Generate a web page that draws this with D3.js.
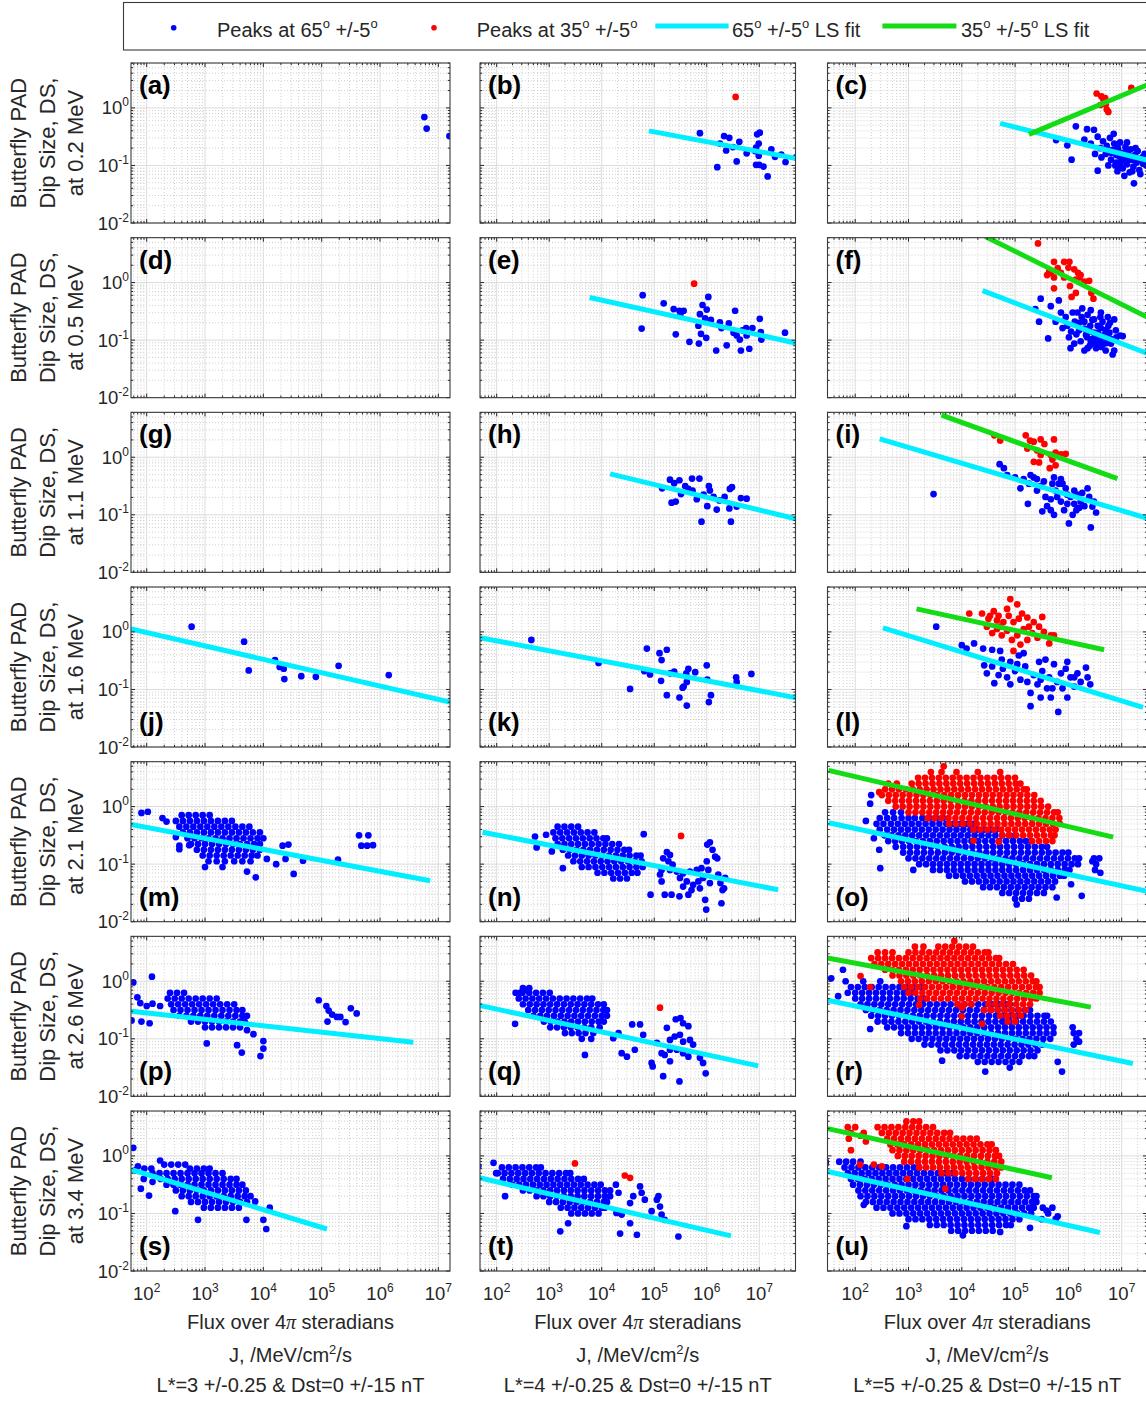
<!DOCTYPE html>
<html>
<head>
<meta charset="utf-8">
<script src="https://cdn.jsdelivr.net/npm/d3@7"></script>
<style>
  body { margin: 0; background: #fff; }
  text { font-family: "Liberation Sans", Arial, Helvetica, sans-serif; fill: #262626; }
</style>
</head>
<body>
<svg id="fig" width="1146" height="1401"></svg>
<script>
// all points are [log10 J, log10 DS]
const energies = ['0.2', '0.5', '1.1', '1.6', '2.1', '2.6', '3.4'];
const lStars = ['3', '4', '5'];
const letters = 'abcdefghijklmnopqrstu'.split('');
const xTickExps = [2, 3, 4, 5, 6, 7];
const yTickExps = [-2, -1, 0];
const xLogLims = [[1.731, 7.2], [1.682, 7.69], [1.48, 7.475]];
const yLogLims = [-2, 0.78];

// dense clouds are listed row by row: [log10 DS, log10 J, log10 J, ...]
const rowsToPts = rows => rows.flatMap(r => r.slice(1).map(v => [v, r[0]]));

const blueA = [[6.76, -0.16], [6.8, -0.36], [7.19, -0.49]];

const blueB = [[5.87, -0.44], [6.33, -0.49], [6.43, -0.52], [6.62, -0.59], [6.25, -0.62], [6.37, -0.74], [6.2, -1.03],
  [6.57, -0.93], [6.76, -0.79], [6.94, -0.69], [6.99, -0.62], [7.01, -0.43], [6.96, -0.46], [6.92, -0.75], [6.99, -0.83],
  [6.94, -0.99], [7.0, -0.99], [7.08, -1.02], [7.16, -1.19], [7.23, -0.72], [7.3, -0.85], [7.42, -0.81], [7.5, -0.94],
  [7.7, -0.86], [6.5, -0.68]];
const redB = [[6.55, 0.19]];
const cyanB = [[4.9, -0.4], [7.74, -0.885]];

const blueC = [[5.77, -0.56], [5.98, -0.65], [6.06, -0.9], [6.14, -0.32], [6.35, -0.37], [6.48, -0.38], [6.3, -0.55],
  [6.42, -0.62], [6.55, -0.5], [6.6, -0.7], [6.65, -0.58], [6.7, -0.8], [6.72, -0.66], [6.78, -0.52], [6.8, -0.9],
  [6.83, -0.73], [6.86, -0.62], [6.88, -1.0], [6.9, -0.82], [6.93, -0.7], [6.95, -0.95], [6.97, -0.6], [7.0, -0.78],
  [7.02, -1.05], [7.05, -0.88], [7.07, -0.68], [7.1, -0.98], [7.12, -0.8], [7.15, -1.12], [7.17, -0.72], [7.2, -0.9],
  [7.22, -1.02], [7.25, -0.82], [7.28, -0.95], [7.3, -0.75], [7.33, -1.08], [7.36, -0.88], [7.4, -0.97], [7.43, -0.8],
  [7.46, -1.0], [6.55, -1.09], [7.23, -1.31], [7.05, -1.18], [6.75, -1.0], [6.62, -0.86], [6.5, -0.8], [6.92, -1.1],
  [7.1, -0.6], [6.85, -0.45], [7.35, -1.15], [7.0, -0.92], [6.98, -1.0], [7.13, -0.9], [6.9, -0.95], [6.8, -0.78],
  [7.18, -0.85], [7.26, -0.7], [7.4, -0.85], [7.08, -0.76], [7.2, -1.1], [6.96, -0.84], [7.3, -0.9], [7.44, -0.92]];
const redC = [[6.53, 0.25], [6.62, 0.2], [6.66, 0.14], [6.7, 0.06], [6.72, -0.03], [6.75, -0.07], [6.69, 0.17],
  [7.18, 0.35], [6.6, 0.05]];
const cyanC = [[4.72, -0.27], [7.48, -0.91]];
const greenC = [[5.26, -0.46], [7.48, 0.4]];

const blueE = [[4.78, -0.22], [4.76, -0.8], [5.18, -0.36], [5.37, -0.46], [5.48, -0.49], [5.56, -0.49], [5.5, -0.54],
  [5.41, -0.9], [5.67, -1.03], [5.85, -1.06], [5.87, -0.55], [5.92, -0.39], [6.03, -0.25], [6.0, -0.47], [5.97, -0.62],
  [5.84, -0.75], [5.89, -0.89], [5.99, -0.96], [6.08, -0.65], [6.25, -0.69], [6.28, -0.79], [6.18, -1.18], [6.38, -1.09],
  [6.54, -0.49], [6.51, -0.87], [6.57, -0.92], [6.65, -1.18], [6.68, -0.83], [6.75, -0.79], [6.76, -0.92], [6.87, -0.79],
  [6.81, -1.15], [7.01, -0.63], [7.03, -0.86], [7.04, -0.99], [7.49, -0.87], [6.63, -0.99], [6.42, -0.71]];
const redE = [[5.76, -0.02]];
const cyanE = [[3.77, -0.26], [7.74, -1.06]];

const blueF = [[5.48, -0.28], [5.38, -0.46], [5.45, -0.68], [5.62, -0.97], [5.67, -0.41], [5.82, -0.31], [5.86, -0.52],
  [5.95, -0.6], [5.98, -0.75], [6.01, -0.95], [6.04, -1.14], [6.12, -0.68], [6.17, -0.52], [6.2, -0.83], [6.23, -1.02],
  [6.3, -0.68], [6.33, -0.91], [6.36, -1.14], [6.41, -0.75], [6.45, -0.98], [6.48, -0.64], [6.55, -0.87], [6.58, -1.1],
  [6.64, -0.68], [6.67, -0.91], [6.7, -1.18], [6.75, -0.75], [6.79, -0.98], [6.83, -1.25], [6.86, -0.64], [6.89, -0.83],
  [6.97, -0.92], [7.02, -0.93], [6.8, -1.06], [6.74, -0.6], [6.61, -0.52], [6.42, -0.48], [6.36, -0.56], [5.89, -0.79],
  [5.76, -0.68], [6.08, -0.52], [6.26, -0.45], [6.52, -1.14], [6.3, -1.18], [6.11, -1.06], [6.67, -1.06], [6.86, -1.18],
  [6.48, -0.87], [6.42, -1.02], [6.61, -0.79], [6.77, -0.87], [6.2, -0.7], [6.3, -0.8], [6.4, -0.85], [6.5, -0.95],
  [6.6, -1.0], [6.7, -0.95], [6.55, -0.75], [6.45, -0.65], [6.35, -0.95], [6.25, -0.6], [6.15, -0.9], [6.05, -0.85],
  [6.6, -0.6], [6.7, -0.82], [6.78, -0.7], [6.9, -0.95], [6.5, -1.05], [6.4, -1.1], [6.62, -1.12], [6.72, -1.05]];
const redF = [[5.43, 0.68], [5.73, 0.36], [5.92, 0.36], [5.8, 0.25], [5.67, 0.17], [5.6, 0.13], [5.73, 0.09], [5.86, 0.17],
  [6.0, 0.26], [6.11, 0.23], [6.18, 0.17], [6.21, 0.09], [6.03, -0.06], [6.06, -0.25], [6.14, -0.18], [6.3, 0.015],
  [6.39, 0.03], [6.43, -0.18], [6.47, -0.28], [5.73, -0.1], [5.92, 0.09], [6.14, 0.05], [5.64, 0.2], [6.02, 0.36], [6.23, 0.13]];
const cyanF = [[4.39, -0.14], [7.48, -1.23]];
const greenF = [[4.44, 0.8], [7.48, -0.6]];

const blueH = [[5.15, -0.54], [5.3, -0.39], [5.38, -0.45], [5.48, -0.4], [5.59, -0.5], [5.72, -0.37], [5.86, -0.37],
  [5.33, -0.79], [5.41, -0.77], [5.51, -0.64], [5.73, -0.58], [5.81, -0.73], [5.9, -1.12], [5.94, -0.65], [6.04, -0.5],
  [6.06, -0.58], [6.01, -0.85], [6.13, -0.69], [6.24, -0.75], [6.34, -0.69], [6.44, -0.55], [6.48, -0.52], [6.43, -0.89],
  [6.46, -1.12], [6.57, -0.86], [6.65, -0.71], [6.76, -0.72], [6.19, -0.91], [5.65, -0.55]];
const cyanH = [[4.16, -0.29], [7.74, -1.08]];

const blueI = [[3.47, -0.64], [4.71, -0.12], [4.79, -0.19], [4.85, -0.31], [5.0, -0.35], [5.1, -0.54], [5.24, -0.81],
  [5.16, -0.38], [5.29, -0.31], [5.35, -0.35], [5.41, -0.38], [5.48, -0.5], [5.51, -0.94], [5.57, -0.69], [5.6, -0.85],
  [5.67, -0.73], [5.73, -0.35], [5.76, -0.58], [5.79, -0.69], [5.86, -0.77], [5.89, -0.46], [5.95, -0.54], [5.98, -0.81],
  [6.01, -1.15], [6.04, -0.69], [6.11, -0.58], [6.17, -0.65], [6.2, -0.88], [6.23, -0.77], [6.3, -0.85], [6.36, -0.54],
  [6.39, -0.69], [6.42, -1.22], [6.45, -0.86], [6.52, -0.96], [6.48, -0.77], [6.08, -1.0], [6.15, -0.92], [5.92, -0.92],
  [5.82, -0.46], [5.41, -0.58], [5.26, -0.46], [5.67, -0.92], [5.73, -1.0], [6.11, -0.81], [6.26, -0.62], [5.98, -0.65],
  [5.86, -0.38], [5.7, -0.46], [5.54, -0.42]];
const redI = [[4.61, 0.38], [4.72, 0.29], [5.2, 0.38], [5.28, 0.29], [5.35, 0.27], [5.48, 0.31], [5.55, 0.23], [5.73, 0.31],
  [5.41, 0.12], [5.48, 0.04], [5.35, -0.08], [5.45, -0.09], [5.67, 0.04], [5.7, -0.04], [5.76, 0.08], [5.86, 0.05],
  [5.95, 0.06], [5.65, -0.19], [5.76, -0.14], [5.23, 0.15]];
const cyanI = [[2.46, 0.32], [7.48, -1.06]];
const greenI = [[3.62, 0.73], [6.92, -0.37]];

const blueJ = [[2.77, 0.09], [3.67, -0.17], [3.75, -0.67], [4.2, -0.49], [4.28, -0.61], [4.35, -0.64], [4.36, -0.82],
  [4.65, -0.77], [4.9, -0.78], [5.29, -0.59], [6.15, -0.75]];
const cyanJ = [[1.73, 0.05], [7.2, -1.22]];

const blueK = [[2.66, -0.14], [3.94, -0.54], [4.54, -0.99], [4.86, -0.29], [4.81, -0.68], [4.92, -0.74], [5.1, -0.37],
  [5.14, -0.49], [5.24, -0.31], [5.13, -0.85], [5.24, -1.1], [5.3, -0.72], [5.38, -0.69], [5.48, -1.14], [5.56, -0.95],
  [5.62, -0.87], [5.65, -0.64], [5.61, -0.72], [5.62, -1.28], [5.78, -0.7], [6.0, -0.58], [6.01, -0.83], [6.04, -1.22],
  [6.08, -1.1], [6.56, -0.79], [6.57, -0.87], [6.85, -0.73], [5.54, -0.97]];
const cyanK = [[1.68, -0.1], [7.74, -1.15]];

const blueL = [[3.52, 0.09], [4.0, -0.23], [4.09, -0.29], [4.23, -0.2], [4.4, -0.29], [4.57, -0.31], [4.72, -0.33],
  [4.42, -0.58], [4.47, -0.72], [4.61, -0.89], [4.57, -0.6], [4.69, -0.75], [4.77, -0.64], [4.85, -0.79], [4.91, -0.52],
  [5.0, -0.68], [5.07, -0.41], [5.1, -0.83], [5.19, -0.6], [5.29, -1.06], [5.35, -0.75], [5.42, -0.91], [5.48, -1.14],
  [5.51, -0.68], [5.57, -0.48], [5.64, -0.79], [5.7, -0.98], [5.73, -0.56], [5.79, -0.87], [5.81, -1.39], [5.86, -0.72],
  [5.89, -0.98], [5.95, -0.64], [5.98, -1.14], [6.04, -0.79], [6.11, -0.95], [6.17, -0.72], [6.23, -0.87], [6.33, -0.62],
  [6.36, -0.79], [6.41, -0.91], [5.29, -1.29], [5.16, -0.37], [4.91, -0.91], [4.75, -0.48], [5.48, -0.83], [5.67, -1.14],
  [5.23, -0.87], [5.45, -0.52], [5.04, -0.56], [5.98, -0.52], [6.11, -0.79], [5.6, -0.98]];
const redL = [[4.14, 0.32], [4.38, 0.32], [4.5, 0.23], [4.6, 0.36], [4.69, 0.28], [4.85, 0.4], [4.91, 0.57], [5.04, 0.48],
  [5.13, 0.32], [5.23, 0.25], [5.35, 0.17], [5.45, 0.09], [5.51, 0.26], [5.67, -0.06], [5.64, -0.2], [4.47, 0.09],
  [4.57, -0.02], [4.66, 0.05], [4.75, -0.06], [4.85, 0.02], [4.94, -0.14], [5.04, -0.06], [5.1, -0.22], [5.23, -0.14],
  [5.32, -0.02], [5.16, 0.05], [4.78, 0.17], [4.97, 0.17], [4.66, 0.2], [5.26, 0.09], [4.88, 0.28], [5.07, 0.23],
  [4.53, 0.28], [4.72, 0.09], [4.97, -0.33], [5.42, -0.1], [5.54, 0.0], [5.73, -0.06]];
const cyanL = [[2.52, 0.07], [7.4, -1.31]];
const greenL = [[3.15, 0.4], [6.67, -0.31]];

const blueMRows = [
  [-0.15, 2.6, 2.72, 2.84, 2.96, 3.08],
  [-0.25, 2.5, 2.62, 2.74, 2.86, 2.98, 3.1, 3.22, 3.34, 3.46],
  [-0.35, 2.56, 2.68, 2.8, 2.92, 3.04, 3.16, 3.28, 3.4, 3.52, 3.64, 3.76],
  [-0.45, 2.62, 2.74, 2.86, 2.98, 3.1, 3.22, 3.34, 3.46, 3.58, 3.7, 3.82, 3.94],
  [-0.55, 2.7, 2.82, 2.94, 3.06, 3.18, 3.3, 3.42, 3.54, 3.66, 3.78, 3.9, 4.0],
  [-0.65, 2.76, 2.88, 3.0, 3.12, 3.24, 3.36, 3.48, 3.6, 3.72, 3.84, 3.94],
  [-0.75, 2.86, 2.98, 3.1, 3.22, 3.34, 3.46, 3.58, 3.7, 3.82, 3.94],
  [-0.85, 2.96, 3.08, 3.2, 3.32, 3.44, 3.56, 3.68, 3.8, 3.9],
  [-0.95, 3.06, 3.2, 3.34, 3.5, 3.64, 3.78]];
const blueMOut = [[1.91, -0.11], [2.02, -0.09], [2.27, -0.2], [2.34, -0.26], [2.5, -0.53], [2.56, -0.68], [2.56, -0.74],
  [2.73, -0.67], [4.06, -0.91], [4.22, -1.0], [4.33, -0.68], [4.38, -0.91], [4.43, -0.66], [4.52, -1.17], [4.68, -0.94],
  [5.28, -0.92], [5.64, -0.5], [5.8, -0.5], [5.68, -0.68], [5.78, -0.68], [5.88, -0.67], [3.72, -1.13], [3.87, -1.23],
  [3.0, -1.05], [3.3, -1.05]];
const cyanM = [[1.73, -0.31], [6.86, -1.29]];

const blueNRows = [
  [-0.35, 3.16, 3.29, 3.42, 3.55],
  [-0.45, 3.08, 3.21, 3.34, 3.47, 3.6, 3.73, 3.86],
  [-0.55, 3.12, 3.25, 3.38, 3.51, 3.64, 3.77, 3.9, 4.03, 4.1],
  [-0.65, 3.16, 3.29, 3.42, 3.55, 3.68, 3.81, 3.94, 4.07, 4.2, 4.33],
  [-0.75, 3.26, 3.39, 3.52, 3.65, 3.78, 3.91, 4.04, 4.17, 4.3, 4.43, 4.52],
  [-0.85, 3.36, 3.49, 3.62, 3.75, 3.88, 4.01, 4.14, 4.27, 4.4, 4.53, 4.66, 4.74],
  [-0.95, 3.46, 3.59, 3.72, 3.85, 3.98, 4.11, 4.24, 4.37, 4.5, 4.63, 4.76],
  [-1.05, 3.62, 3.75, 3.88, 4.01, 4.14, 4.27, 4.4, 4.53, 4.66, 4.78],
  [-1.15, 3.92, 4.05, 4.18, 4.31, 4.44, 4.57, 4.68],
  [-1.25, 4.22, 4.35, 4.48]];
const blueNOut = [[2.73, -0.52], [2.76, -0.71], [2.94, -0.49], [3.05, -0.78], [3.26, -1.07], [4.8, -0.48], [4.93, -1.53],
  [5.17, -0.9], [5.24, -0.79], [5.3, -0.84], [5.27, -0.95], [5.35, -1.01], [5.2, -1.53], [5.11, -1.18], [5.14, -1.3],
  [5.33, -1.53], [5.48, -1.56], [5.43, -1.13], [5.49, -1.24], [5.55, -1.16], [5.62, -1.3], [5.65, -1.53], [5.68, -1.13],
  [5.74, -1.36], [5.81, -1.1], [5.84, -1.3], [5.87, -1.42], [5.9, -1.07], [5.93, -1.24], [5.97, -1.62], [5.99, -1.79],
  [6.0, -0.95], [6.01, -0.66], [6.06, -0.62], [6.11, -0.75], [6.16, -0.87], [6.2, -0.9], [6.22, -1.18], [6.26, -1.33],
  [6.28, -1.68], [6.3, -1.45], [6.33, -1.42], [6.35, -1.24], [6.03, -1.1], [6.06, -1.33], [5.55, -1.39], [5.71, -1.45],
  [5.3, -1.1], [5.14, -1.1]];
const redN = [[5.51, -0.51]];
const cyanN = [[1.73, -0.445], [7.36, -1.445]];

const blueORows = [
  [-0.1, 2.56, 2.71, 2.86],
  [-0.2, 2.46, 2.6, 2.73, 2.87, 3.0, 3.12, 3.26, 3.39, 3.52, 3.65],
  [-0.3, 2.4, 2.53, 2.67, 2.8, 2.93, 3.06, 3.19, 3.32, 3.45, 3.58, 3.71, 3.84, 3.97, 4.1, 4.2],
  [-0.4, 2.46, 2.6, 2.73, 2.86, 2.99, 3.12, 3.25, 3.38, 3.51, 3.64, 3.77, 3.9, 4.03, 4.16, 4.29, 4.42, 4.55, 4.65],
  [-0.5, 2.55, 2.68, 2.81, 2.94, 3.07, 3.2, 3.33, 3.46, 3.59, 3.72, 3.85, 3.98, 4.11, 4.24, 4.37, 4.5, 4.63, 4.76, 4.89, 5.0],
  [-0.6, 2.62, 2.75, 2.88, 3.01, 3.14, 3.27, 3.4, 3.53, 3.66, 3.79, 3.92, 4.05, 4.18, 4.31, 4.44, 4.57, 4.7, 4.83, 4.96, 5.09, 5.2, 5.3],
  [-0.7, 2.76, 2.9, 3.03, 3.16, 3.29, 3.42, 3.55, 3.68, 3.81, 3.94, 4.07, 4.2, 4.33, 4.46, 4.59, 4.72, 4.85, 4.98, 5.11, 5.24, 5.37, 5.5, 5.6],
  [-0.8, 2.9, 3.03, 3.16, 3.29, 3.42, 3.55, 3.68, 3.81, 3.94, 4.07, 4.2, 4.33, 4.46, 4.59, 4.72, 4.85, 4.98, 5.11, 5.24, 5.37, 5.5, 5.63, 5.76, 5.89, 6.0],
  [-0.9, 3.0, 3.13, 3.26, 3.39, 3.52, 3.65, 3.78, 3.91, 4.04, 4.17, 4.3, 4.43, 4.56, 4.69, 4.82, 4.95, 5.08, 5.21, 5.34, 5.47, 5.6, 5.73, 5.86, 5.99, 6.12, 6.2, 6.48, 6.58],
  [-1.0, 3.2, 3.33, 3.46, 3.59, 3.72, 3.85, 3.98, 4.11, 4.24, 4.37, 4.5, 4.63, 4.76, 4.89, 5.02, 5.15, 5.28, 5.41, 5.54, 5.67, 5.8, 5.93, 6.06, 6.18, 6.52],
  [-1.1, 3.46, 3.59, 3.72, 3.85, 3.98, 4.11, 4.24, 4.37, 4.5, 4.63, 4.76, 4.89, 5.02, 5.15, 5.28, 5.41, 5.54, 5.67, 5.8, 5.93, 6.02, 6.5],
  [-1.2, 3.76, 3.89, 4.02, 4.15, 4.28, 4.41, 4.54, 4.67, 4.8, 4.93, 5.06, 5.19, 5.32, 5.45, 5.58, 5.71, 5.84, 5.92],
  [-1.3, 4.06, 4.19, 4.32, 4.45, 4.58, 4.71, 4.84, 4.97, 5.1, 5.23, 5.36, 5.49, 5.62, 5.75],
  [-1.4, 4.4, 4.53, 4.66, 4.79, 4.92, 5.05, 5.18, 5.31, 5.44, 5.57, 5.7],
  [-1.5, 4.76, 4.89, 5.02, 5.15, 5.28, 5.41, 5.54],
  [-1.6, 5.0, 5.13, 5.26]];
const blueOOut = [[2.3, 0.2], [2.28, 0.05], [2.47, -1.07], [3.09, -1.1], [5.03, -1.7], [5.78, -1.58], [6.25, -1.55],
  [6.05, -1.35], [2.35, -0.55], [2.45, -0.75], [2.2, -0.25], [6.6, -1.15], [6.45, -0.95]];
const redORows = [
  [0.7, 3.66],
  [0.6, 3.42, 3.62, 3.9, 4.3, 4.72],
  [0.5, 3.18, 3.31, 3.44, 3.57, 3.7, 3.83, 3.96, 4.09, 4.22, 4.35, 4.48, 4.61, 4.74, 4.87, 5.0],
  [0.4, 2.62, 2.78, 3.06, 3.19, 3.32, 3.45, 3.58, 3.71, 3.84, 3.97, 4.1, 4.23, 4.36, 4.49, 4.62, 4.75, 4.88, 5.01, 5.1],
  [0.3, 2.56, 2.69, 2.82, 2.95, 3.08, 3.21, 3.34, 3.47, 3.6, 3.73, 3.86, 3.99, 4.12, 4.25, 4.38, 4.51, 4.64, 4.77, 4.9, 5.03, 5.16, 5.22],
  [0.2, 2.5, 2.63, 2.76, 2.89, 3.02, 3.15, 3.28, 3.41, 3.54, 3.67, 3.8, 3.93, 4.06, 4.19, 4.32, 4.45, 4.58, 4.71, 4.84, 4.97, 5.1, 5.23, 5.36],
  [0.1, 2.62, 2.75, 2.88, 3.01, 3.14, 3.27, 3.4, 3.53, 3.66, 3.79, 3.92, 4.05, 4.18, 4.31, 4.44, 4.57, 4.7, 4.83, 4.96, 5.09, 5.22, 5.35, 5.48],
  [0.0, 2.76, 2.89, 3.02, 3.15, 3.28, 3.41, 3.54, 3.67, 3.8, 3.93, 4.06, 4.19, 4.32, 4.45, 4.58, 4.71, 4.84, 4.97, 5.1, 5.23, 5.36, 5.49, 5.62],
  [-0.1, 3.0, 3.13, 3.26, 3.39, 3.52, 3.65, 3.78, 3.91, 4.04, 4.17, 4.3, 4.43, 4.56, 4.69, 4.82, 4.95, 5.08, 5.21, 5.34, 5.47, 5.6, 5.73, 5.8],
  [-0.2, 3.36, 3.49, 3.62, 3.75, 3.88, 4.01, 4.14, 4.27, 4.4, 4.53, 4.66, 4.79, 4.92, 5.05, 5.18, 5.31, 5.44, 5.57, 5.7, 5.83],
  [-0.3, 3.76, 3.89, 4.02, 4.15, 4.28, 4.41, 4.54, 4.67, 4.8, 4.93, 5.06, 5.19, 5.32, 5.45, 5.58, 5.71, 5.84],
  [-0.4, 4.22, 4.35, 4.48, 4.61, 4.74, 4.87, 5.0, 5.13, 5.26, 5.39, 5.52, 5.65, 5.76],
  [-0.5, 4.76, 4.89, 5.02, 5.15, 5.28, 5.41, 5.54, 5.67, 5.74],
  [-0.6, 5.32, 5.45, 5.58, 5.7]];
const redOOut = [[4.22, -0.59], [4.69, -0.61], [2.45, 0.25]];
const cyanO = [[1.5, -0.28], [7.46, -1.47]];
const greenO = [[1.5, 0.63], [6.84, -0.53]];

const bluePRows = [
  [-0.2, 2.4, 2.52, 2.64],
  [-0.3, 2.36, 2.48, 2.6, 2.72, 2.84, 2.96, 3.08, 3.2],
  [-0.4, 2.42, 2.54, 2.66, 2.78, 2.9, 3.02, 3.14, 3.26, 3.38, 3.5],
  [-0.5, 2.46, 2.58, 2.7, 2.82, 2.94, 3.06, 3.18, 3.3, 3.42, 3.54, 3.64],
  [-0.6, 2.56, 2.68, 2.8, 2.92, 3.04, 3.16, 3.28, 3.4, 3.52, 3.64, 3.72],
  [-0.7, 2.76, 2.88, 3.0, 3.12, 3.24, 3.36, 3.48, 3.6, 3.68],
  [-0.8, 3.0, 3.12, 3.24, 3.36, 3.48, 3.6]];
const bluePOut = [[1.77, -0.02], [2.09, 0.08], [1.74, -0.68], [1.84, -0.28], [1.89, -0.38], [2.05, -0.73], [1.91, -0.7],
  [2.0, -0.43], [2.1, -0.39], [2.23, -0.43], [3.72, -0.85], [3.83, -0.92], [3.63, -1.24], [3.95, -1.3], [4.0, -1.04],
  [4.0, -1.17], [3.55, -1.11], [3.03, -1.08], [4.95, -0.33], [5.08, -0.43], [5.12, -0.51], [5.18, -0.58], [5.26, -0.62],
  [5.32, -0.62], [5.41, -0.71], [5.1, -0.7], [5.5, -0.47], [5.6, -0.56]];
const cyanP = [[1.73, -0.52], [6.57, -1.06]];

const blueQRows = [
  [-0.12, 2.5, 2.62],
  [-0.2, 2.36, 2.49, 2.62, 2.75, 2.88, 3.01],
  [-0.3, 2.42, 2.55, 2.68, 2.81, 2.94, 3.07, 3.2, 3.33, 3.46, 3.59, 3.72, 3.82],
  [-0.4, 2.5, 2.63, 2.76, 2.89, 3.02, 3.15, 3.28, 3.41, 3.54, 3.67, 3.8, 3.93, 4.04],
  [-0.5, 2.6, 2.73, 2.86, 2.99, 3.12, 3.25, 3.38, 3.51, 3.64, 3.77, 3.9, 4.03, 4.1],
  [-0.6, 2.7, 2.83, 2.96, 3.09, 3.22, 3.35, 3.48, 3.61, 3.74, 3.87, 4.0, 4.1],
  [-0.7, 2.9, 3.03, 3.16, 3.29, 3.42, 3.55, 3.68, 3.81, 3.94, 4.04],
  [-0.8, 3.02, 3.15, 3.28, 3.41, 3.54, 3.67, 3.8, 3.96],
  [-0.9, 3.3, 3.43, 3.56, 3.69, 3.84],
  [-1.0, 3.62, 3.8]];
const blueQOut = [[5.24, -0.81], [5.41, -0.66], [5.5, -0.64], [5.55, -0.73], [5.65, -0.78], [5.3, -1.02], [5.39, -0.96],
  [5.49, -0.93], [5.55, -1.05], [5.68, -1.02], [5.74, -1.1], [5.3, -1.19], [5.43, -1.19], [5.2, -1.28], [5.55, -1.25],
  [5.65, -1.31], [5.3, -1.39], [5.17, -1.65], [5.48, -1.74], [5.87, -1.33], [5.93, -1.42], [5.98, -1.6], [4.95, -1.42],
  [4.97, -1.48], [5.05, -1.07], [5.14, -1.25], [4.32, -0.9], [4.38, -1.25], [4.48, -1.31], [4.58, -0.75], [4.63, -1.19],
  [4.73, -0.75], [4.79, -0.93], [4.22, -0.99], [2.35, -0.74], [2.54, -0.15], [2.44, -0.2], [3.68, -1.28]];
const redQ = [[5.11, -0.46]];
const cyanQ = [[1.67, -0.42], [6.98, -1.47]];

const blueRRows = [
  [0.2, 1.77],
  [0.0, 1.82, 2.15, 2.47],
  [-0.1, 1.92, 2.05, 2.18, 2.31, 2.44, 2.57, 2.7, 2.83, 2.96, 3.09, 3.22, 3.3],
  [-0.2, 1.86, 2.0, 2.13, 2.26, 2.39, 2.52, 2.65, 2.78, 2.91, 3.04],
  [-0.3, 2.0, 2.13, 2.26, 2.39, 2.52, 2.65, 2.78, 2.91, 3.04, 3.17, 3.3],
  [-0.4, 2.1, 2.23, 2.36, 2.49, 2.62, 2.75, 2.88, 3.01, 3.14, 3.27, 3.4, 3.53, 3.66, 3.79, 3.92, 4.05, 4.18, 4.31, 4.44, 4.57, 4.7, 4.83, 4.9],
  [-0.5, 2.2, 2.33, 2.46, 2.59, 2.72, 2.85, 2.98, 3.11, 3.24, 3.37, 3.5, 3.63, 3.76, 3.89, 4.02, 4.15, 4.28, 4.41, 4.54, 4.67, 4.8, 4.93, 5.06, 5.19, 5.28],
  [-0.6, 2.3, 2.43, 2.56, 2.69, 2.82, 2.95, 3.08, 3.21, 3.34, 3.47, 3.6, 3.73, 3.86, 3.99, 4.12, 4.25, 4.38, 4.51, 4.64, 4.77, 4.9, 5.03, 5.16, 5.29, 5.42, 5.55, 5.6],
  [-0.7, 2.42, 2.55, 2.68, 2.81, 2.94, 3.07, 3.2, 3.33, 3.46, 3.59, 3.72, 3.85, 3.98, 4.11, 4.24, 4.37, 4.5, 4.63, 4.76, 4.89, 5.02, 5.15, 5.28, 5.41, 5.54, 5.67],
  [-0.8, 2.6, 2.73, 2.86, 2.99, 3.12, 3.25, 3.38, 3.51, 3.64, 3.77, 3.9, 4.03, 4.16, 4.29, 4.42, 4.55, 4.68, 4.81, 4.94, 5.07, 5.2, 5.33, 5.46, 5.59, 5.72, 6.08],
  [-0.9, 2.86, 2.99, 3.12, 3.25, 3.38, 3.51, 3.64, 3.77, 3.9, 4.03, 4.16, 4.29, 4.42, 4.55, 4.68, 4.81, 4.94, 5.07, 5.2, 5.33, 5.46, 5.59, 5.72, 6.1, 6.2],
  [-1.0, 3.06, 3.19, 3.32, 3.45, 3.58, 3.71, 3.84, 3.97, 4.1, 4.23, 4.36, 4.49, 4.62, 4.75, 4.88, 5.01, 5.14, 5.27, 5.4, 5.53, 5.66, 6.15],
  [-1.1, 3.3, 3.43, 3.56, 3.69, 3.82, 3.95, 4.08, 4.21, 4.34, 4.47, 4.6, 4.73, 4.86, 4.99, 5.12, 5.25, 5.38, 5.51, 6.1],
  [-1.2, 3.6, 3.73, 3.86, 3.99, 4.12, 4.25, 4.38, 4.51, 4.64, 4.77, 4.9, 5.03, 5.16, 5.29, 5.42],
  [-1.3, 3.96, 4.09, 4.22, 4.35, 4.48, 4.61, 4.74, 4.87, 5.0, 5.13, 5.26, 5.36],
  [-1.4, 4.3, 4.43, 4.56, 4.69, 4.82, 4.95, 5.08]];
const blueROut = [[1.68, -0.26], [2.28, -0.83], [3.63, -1.38], [4.44, -1.57], [4.9, -1.5], [5.88, -1.57], [5.8, -1.4],
  [6.2, -1.05], [1.55, 0.05]];
const redRRows = [
  [0.7, 3.86],
  [0.6, 3.12, 3.28, 3.56, 3.69, 3.82, 3.95, 4.08, 4.21],
  [0.5, 2.42, 2.56, 2.7, 3.0, 3.13, 3.26, 3.39, 3.52, 3.65, 3.78, 3.91, 4.04, 4.17, 4.3, 4.43, 4.5],
  [0.4, 2.3, 2.43, 2.56, 2.69, 2.82, 2.95, 3.08, 3.21, 3.34, 3.47, 3.6, 3.73, 3.86, 3.99, 4.12, 4.25, 4.38, 4.51, 4.64, 4.7],
  [0.3, 2.36, 2.49, 2.62, 2.75, 2.88, 3.01, 3.14, 3.27, 3.4, 3.53, 3.66, 3.79, 3.92, 4.05, 4.18, 4.31, 4.44, 4.57, 4.7, 4.83, 4.96],
  [0.2, 2.56, 2.69, 2.82, 2.95, 3.08, 3.21, 3.34, 3.47, 3.6, 3.73, 3.86, 3.99, 4.12, 4.25, 4.38, 4.51, 4.64, 4.77, 4.9, 5.03, 5.16],
  [0.1, 2.7, 2.83, 2.96, 3.09, 3.22, 3.35, 3.48, 3.61, 3.74, 3.87, 4.0, 4.13, 4.26, 4.39, 4.52, 4.65, 4.78, 4.91, 5.04, 5.17, 5.3],
  [0.0, 2.86, 2.99, 3.12, 3.25, 3.38, 3.51, 3.64, 3.77, 3.9, 4.03, 4.16, 4.29, 4.42, 4.55, 4.68, 4.81, 4.94, 5.07, 5.2, 5.33, 5.4],
  [-0.1, 2.92, 3.05, 3.18, 3.31, 3.44, 3.57, 3.7, 3.83, 3.96, 4.09, 4.22, 4.35, 4.48, 4.61, 4.74, 4.87, 5.0, 5.13, 5.26, 5.39, 5.46],
  [-0.2, 3.0, 3.13, 3.26, 3.39, 3.52, 3.65, 3.78, 3.91, 4.04, 4.17, 4.3, 4.43, 4.56, 4.69, 4.82, 4.95, 5.08, 5.21, 5.34, 5.46],
  [-0.3, 3.22, 3.35, 3.48, 3.61, 3.74, 3.87, 4.0, 4.13, 4.26, 4.39, 4.52, 4.65, 4.78, 4.91, 5.04, 5.17, 5.3, 5.4],
  [-0.4, 3.92, 4.05, 4.18, 4.5, 4.63, 4.76, 4.89, 5.02, 5.15, 5.28],
  [-0.5, 4.42, 4.55, 4.68, 4.81, 4.94, 5.07, 5.2],
  [-0.6, 4.72, 4.85, 4.98, 5.11],
  [-0.7, 4.86, 5.0]];
const redROut = [[2.1, 0.09], [2.28, -0.1], [3.2, -0.41], [4.0, -0.46], [4.0, -0.61], [4.38, -0.74]];
const cyanR = [[1.48, -0.33], [7.21, -1.43]];
const greenR = [[1.48, 0.405], [6.42, -0.45]];

const blueSRows = [
  [-0.15, 2.3, 2.42, 2.54, 2.66],
  [-0.22, 1.96, 2.08, 2.74, 2.86, 2.98, 3.08],
  [-0.3, 2.1, 2.22, 2.34, 2.46, 2.58, 2.7, 2.82, 2.94, 3.06, 3.18, 3.3],
  [-0.4, 2.24, 2.36, 2.48, 2.6, 2.72, 2.84, 2.96, 3.08, 3.2, 3.32, 3.44, 3.54],
  [-0.5, 2.34, 2.46, 2.58, 2.7, 2.82, 2.94, 3.06, 3.18, 3.3, 3.42, 3.54, 3.64],
  [-0.6, 2.5, 2.62, 2.74, 2.86, 2.98, 3.1, 3.22, 3.34, 3.46, 3.58, 3.7],
  [-0.7, 2.6, 2.72, 2.84, 2.96, 3.08, 3.2, 3.32, 3.44, 3.56, 3.68, 3.78],
  [-0.8, 2.76, 2.88, 3.0, 3.12, 3.24, 3.36, 3.48, 3.6, 3.72],
  [-0.9, 2.98, 3.1, 3.22, 3.34, 3.46, 3.58]];
const blueSOut = [[1.77, 0.14], [2.23, -0.08], [1.9, -0.57], [2.04, -0.69], [2.49, -0.96], [2.88, -1.11], [3.71, -1.11],
  [4.0, -1.11], [4.05, -1.27], [4.11, -0.9], [3.86, -0.79], [1.8, -0.25], [1.95, -0.4], [2.1, -0.45], [1.85, -0.18]];
const cyanS = [[1.74, -0.24], [5.09, -1.27]];

const blueTRows = [
  [-0.2, 2.1, 2.23, 2.36, 2.49, 2.62, 2.75, 2.84],
  [-0.3, 2.02, 2.15, 2.28, 2.41, 2.54, 2.67, 2.8, 2.93, 3.06, 3.19, 3.32, 3.4],
  [-0.4, 2.12, 2.25, 2.38, 2.51, 2.64, 2.77, 2.9, 3.03, 3.16, 3.29, 3.42, 3.55, 3.66],
  [-0.5, 2.3, 2.43, 2.56, 2.69, 2.82, 2.95, 3.08, 3.21, 3.34, 3.47, 3.6, 3.73, 3.86, 3.98],
  [-0.6, 2.5, 2.63, 2.76, 2.89, 3.02, 3.15, 3.28, 3.41, 3.54, 3.67, 3.8, 3.93, 4.06, 4.16],
  [-0.7, 2.76, 2.89, 3.02, 3.15, 3.28, 3.41, 3.54, 3.67, 3.8, 3.93, 4.06, 4.16],
  [-0.8, 3.0, 3.13, 3.26, 3.39, 3.52, 3.65, 3.78, 3.91, 4.04, 4.1],
  [-0.9, 3.22, 3.35, 3.48, 3.61, 3.74, 3.87, 4.0, 4.06],
  [-1.0, 3.42, 3.55, 3.68, 3.81, 3.94]];
const blueTOut = [[1.65, -0.18], [1.94, -0.12], [1.99, -0.3], [2.16, -0.7], [4.27, -0.5], [4.32, -0.64], [4.6, -0.7],
  [4.73, -0.53], [4.76, -0.64], [4.82, -0.76], [4.54, -0.82], [4.38, -1.02], [4.67, -1.37], [4.95, -0.96], [5.08, -0.7],
  [5.11, -0.88], [5.14, -1.02], [5.2, -1.11], [5.46, -1.4], [4.54, -1.17], [4.28, -0.99], [3.21, -1.31], [3.36, -1.17],
  [4.35, -1.35], [5.05, -0.76]];
const redT = [[3.49, -0.13], [4.44, -0.34], [4.54, -0.38]];
const cyanT = [[1.67, -0.38], [6.46, -1.39]];

const blueURows = [
  [-0.1, 1.45, 1.7, 1.83, 1.96, 2.1],
  [-0.2, 1.8, 1.93, 2.06, 2.19, 2.32, 2.45, 2.58, 2.71, 2.84, 2.97, 3.1, 3.2],
  [-0.3, 1.86, 1.99, 2.12, 2.25, 2.38, 2.51, 2.64, 2.77, 2.9, 3.03, 3.16, 3.29, 3.42, 3.55, 3.68, 3.8],
  [-0.4, 1.92, 2.05, 2.18, 2.31, 2.44, 2.57, 2.7, 2.83, 2.96, 3.09, 3.22, 3.35, 3.48, 3.61, 3.74, 3.87, 4.0, 4.13, 4.26, 4.39, 4.52, 4.6],
  [-0.5, 1.96, 2.09, 2.22, 2.35, 2.48, 2.61, 2.74, 2.87, 3.0, 3.13, 3.26, 3.39, 3.52, 3.65, 3.78, 3.91, 4.04, 4.17, 4.3, 4.43, 4.56, 4.69, 4.82, 4.95, 5.08],
  [-0.6, 2.06, 2.19, 2.32, 2.45, 2.58, 2.71, 2.84, 2.97, 3.1, 3.23, 3.36, 3.49, 3.62, 3.75, 3.88, 4.01, 4.14, 4.27, 4.4, 4.53, 4.66, 4.79, 4.92, 5.05, 5.18, 5.28],
  [-0.7, 2.1, 2.23, 2.36, 2.49, 2.62, 2.75, 2.88, 3.01, 3.14, 3.27, 3.4, 3.53, 3.66, 3.79, 3.92, 4.05, 4.18, 4.31, 4.44, 4.57, 4.7, 4.83, 4.96, 5.09, 5.22, 5.35, 5.4],
  [-0.8, 2.2, 2.33, 2.46, 2.59, 2.72, 2.85, 2.98, 3.11, 3.24, 3.37, 3.5, 3.63, 3.76, 3.89, 4.02, 4.15, 4.28, 4.41, 4.54, 4.67, 4.8, 4.93, 5.06, 5.19, 5.32, 5.4],
  [-0.9, 2.4, 2.53, 2.66, 2.79, 2.92, 3.05, 3.18, 3.31, 3.44, 3.57, 3.7, 3.83, 3.96, 4.09, 4.22, 4.35, 4.48, 4.61, 4.74, 4.87, 5.0, 5.13, 5.26, 5.35, 5.52, 5.7],
  [-1.0, 2.7, 2.83, 2.96, 3.09, 3.22, 3.35, 3.48, 3.61, 3.74, 3.87, 4.0, 4.13, 4.26, 4.39, 4.52, 4.65, 4.78, 4.91, 5.04, 5.17, 5.3, 5.62],
  [-1.1, 3.0, 3.13, 3.26, 3.39, 3.52, 3.65, 3.78, 3.91, 4.04, 4.17, 4.3, 4.43, 4.56, 4.69, 4.82, 4.95, 5.08, 5.5, 5.76],
  [-1.2, 3.4, 3.53, 3.66, 3.79, 3.92, 4.05, 4.18, 4.31, 4.44, 4.57, 4.7, 4.83, 4.92],
  [-1.3, 3.8, 3.93, 4.06, 4.19, 4.32, 4.45, 4.58]];
const blueUOut = [[1.44, -0.15], [2.96, -1.22], [5.28, -1.25], [5.59, -0.95], [2.16, -0.85], [4.02, -1.38], [4.72, -1.32],
  [5.8, -1.05]];
const redURows = [
  [0.6, 2.96, 3.09, 3.2],
  [0.5, 1.86, 2.0, 2.42, 2.55, 2.68, 2.81, 2.94, 3.07, 3.2, 3.33, 3.46],
  [0.4, 1.92, 2.16, 2.5, 2.63, 2.76, 2.89, 3.02, 3.15, 3.28, 3.41, 3.54, 3.67, 3.78],
  [0.3, 2.6, 2.73, 2.86, 2.99, 3.12, 3.25, 3.38, 3.51, 3.64, 3.77, 3.9, 4.03, 4.16, 4.28],
  [0.2, 2.66, 2.79, 2.92, 3.05, 3.18, 3.31, 3.44, 3.57, 3.7, 3.83, 3.96, 4.09, 4.22, 4.35, 4.48, 4.56],
  [0.1, 2.7, 2.83, 2.96, 3.09, 3.22, 3.35, 3.48, 3.61, 3.74, 3.87, 4.0, 4.13, 4.26, 4.39, 4.52, 4.64],
  [0.0, 2.8, 2.93, 3.06, 3.19, 3.32, 3.45, 3.58, 3.71, 3.84, 3.97, 4.1, 4.23, 4.36, 4.49, 4.62, 4.7],
  [-0.1, 2.92, 3.05, 3.18, 3.31, 3.44, 3.57, 3.7, 3.83, 3.96, 4.09, 4.22, 4.35, 4.48, 4.61, 4.74],
  [-0.2, 3.2, 3.33, 3.46, 3.59, 3.72, 3.85, 3.98, 4.11, 4.24, 4.37, 4.5, 4.63, 4.74],
  [-0.3, 3.62, 3.75, 3.88, 4.01, 4.14, 4.27, 4.4, 4.53, 4.66],
  [-0.4, 4.12, 4.25, 4.38, 4.51, 4.64]];
const redUOut = [[1.88, 0.3], [1.92, 0.1], [2.1, 0.35], [2.2, 0.25], [2.09, -0.15], [2.35, -0.15], [2.5, -0.18],
  [2.98, -0.4], [3.69, -0.57]];
const cyanU = [[1.48, -0.27], [6.59, -1.33]];
const greenU = [[1.48, 0.475], [5.69, -0.38]];

// panel table built from the arrays above
const panels = {
  a: { blue: blueA },
  b: { blue: blueB, red: redB, cyan: cyanB },
  c: { blue: blueC, red: redC, cyan: cyanC, green: greenC },
  d: {},
  e: { blue: blueE, red: redE, cyan: cyanE },
  f: { blue: blueF, red: redF, cyan: cyanF, green: greenF },
  g: {},
  h: { blue: blueH, cyan: cyanH },
  i: { blue: blueI, red: redI, cyan: cyanI, green: greenI },
  j: { blue: blueJ, cyan: cyanJ },
  k: { blue: blueK, cyan: cyanK },
  l: { blue: blueL, red: redL, cyan: cyanL, green: greenL },
  m: { blue: rowsToPts(blueMRows).concat(blueMOut), cyan: cyanM },
  n: { blue: rowsToPts(blueNRows).concat(blueNOut), red: redN, cyan: cyanN },
  o: { blue: rowsToPts(blueORows).concat(blueOOut), red: rowsToPts(redORows).concat(redOOut), cyan: cyanO, green: greenO },
  p: { blue: rowsToPts(bluePRows).concat(bluePOut), cyan: cyanP },
  q: { blue: rowsToPts(blueQRows).concat(blueQOut), red: redQ, cyan: cyanQ },
  r: { blue: rowsToPts(blueRRows).concat(blueROut), red: rowsToPts(redRRows).concat(redROut), cyan: cyanR, green: greenR },
  s: { blue: rowsToPts(blueSRows).concat(blueSOut), cyan: cyanS },
  t: { blue: rowsToPts(blueTRows).concat(blueTOut), red: redT, cyan: cyanT },
  u: { blue: rowsToPts(blueURows).concat(blueUOut), red: rowsToPts(redURows).concat(redUOut), cyan: cyanU, green: greenU }
};

const BLUE = '#0000ff', RED = '#ff0000', CYAN = '#00eeff', GREEN = '#14dc14';
const svg = d3.select('#fig');
const colLeft = [131, 480, 827.5], colWidth = [319, 315.5, 319.5];
const rowTop0 = 63, rowStep = 174.67, panelH = 160;
const dotR = 3.35;

function supLabel(sel, base, exp, supSize, rise) {
  sel.append('tspan').text(base);
  sel.append('tspan').attr('dy', -rise).attr('font-size', supSize).text(exp);
}

function drawPanel(letter, r, c) {
  const d = panels[letter];
  const w = colWidth[c], h = panelH;
  const x = d3.scaleLog().domain(xLogLims[c].map(v => 10 ** v)).range([0, w]);
  const y = d3.scaleLog().domain(yLogLims.map(v => 10 ** v)).range([h, 0]);
  const px = p => x(10 ** p[0]), py = p => y(10 ** p[1]);
  const top = rowTop0 + r * rowStep;
  const g = svg.append('g').attr('transform', `translate(${colLeft[c]},${top})`);
  g.append('rect').attr('width', w).attr('height', h).attr('fill', '#fff');
  g.append('clipPath').attr('id', 'clip-' + letter)
    .append('rect').attr('width', w).attr('height', h);

  const isMajor = v => Math.abs(Math.log10(v) - Math.round(Math.log10(v))) < 1e-6;
  const xt = x.ticks(), yt = y.ticks();

  // minor grid
  g.selectAll('.xminor').data(xt.filter(v => !isMajor(v))).join('line')
    .attr('x1', v => x(v)).attr('x2', v => x(v)).attr('y1', 0).attr('y2', h)
    .attr('stroke', '#c4c4c4').attr('stroke-width', 0.8).attr('stroke-dasharray', '1,2');
  g.selectAll('.yminor').data(yt.filter(v => !isMajor(v))).join('line')
    .attr('y1', v => y(v)).attr('y2', v => y(v)).attr('x1', 0).attr('x2', w)
    .attr('stroke', '#c4c4c4').attr('stroke-width', 0.8).attr('stroke-dasharray', '1,2');
  // major grid
  g.selectAll('.xmajor').data(xt.filter(isMajor)).join('line')
    .attr('x1', v => x(v)).attr('x2', v => x(v)).attr('y1', 0).attr('y2', h)
    .attr('stroke', '#dcdcdc').attr('stroke-width', 1);
  g.selectAll('.ymajor').data(yt.filter(isMajor)).join('line')
    .attr('y1', v => y(v)).attr('y2', v => y(v)).attr('x1', 0).attr('x2', w)
    .attr('stroke', '#dcdcdc').attr('stroke-width', 1);

  const plot = g.append('g').attr('clip-path', `url(#clip-${letter})`);
  plot.selectAll('.b').data(d.blue || []).join('circle')
    .attr('cx', px).attr('cy', py).attr('r', dotR).attr('fill', BLUE);
  plot.selectAll('.rd').data(d.red || []).join('circle')
    .attr('cx', px).attr('cy', py).attr('r', dotR).attr('fill', RED);
  const line = d3.line().x(px).y(py);
  if (d.cyan) plot.append('path').attr('d', line(d.cyan)).attr('stroke', CYAN).attr('stroke-width', 5).attr('fill', 'none');
  if (d.green) plot.append('path').attr('d', line(d.green)).attr('stroke', GREEN).attr('stroke-width', 5).attr('fill', 'none');

  // ticks on all four sides
  const tk = g.append('g').attr('stroke', '#262626').attr('stroke-width', 1);
  xt.forEach(v => {
    const L = isMajor(v) ? 4 : 2.2, xx = x(v);
    tk.append('line').attr('x1', xx).attr('x2', xx).attr('y1', h).attr('y2', h - L);
    tk.append('line').attr('x1', xx).attr('x2', xx).attr('y1', 0).attr('y2', L);
  });
  yt.forEach(v => {
    const L = isMajor(v) ? 4 : 2.2, yy = y(v);
    tk.append('line').attr('y1', yy).attr('y2', yy).attr('x1', 0).attr('x2', L);
    tk.append('line').attr('y1', yy).attr('y2', yy).attr('x1', w).attr('x2', w - L);
  });
  g.append('rect').attr('width', w).attr('height', h).attr('fill', 'none')
    .attr('stroke', '#3a3a3a').attr('stroke-width', 1.1);

  // panel letter
  g.append('text').attr('x', 8).attr('y', r < 3 ? 31 : h - 16)
    .attr('font-size', 26).attr('font-weight', 'bold').style('fill', '#000')
    .text(`(${letter})`);

  if (c === 0) {
    yTickExps.forEach(e => {
      const t = g.append('text').attr('x', -2).attr('y', y(10 ** e) + 6.5)
        .attr('text-anchor', 'end').attr('font-size', 18.5);
      supLabel(t, '10', String(e), 12, 8);
    });
    const lines = ['Butterfly PAD', 'Dip Size, DS,', `at ${energies[r]} MeV`];
    lines.forEach((s, k) => {
      svg.append('text')
        .attr('transform', `translate(${26 + k * 28.5},${top + h / 2}) rotate(-90)`)
        .attr('text-anchor', 'middle').attr('font-size', 22).text(s);
    });
  }
  if (r === 6) {
    xTickExps.forEach(e => {
      const t = g.append('text').attr('x', x(10 ** e)).attr('y', h + 29)
        .attr('text-anchor', 'middle').attr('font-size', 18.5);
      supLabel(t, '10', String(e), 12, 8);
    });
    const cx = colLeft[c] + w / 2;
    const l1 = svg.append('text').attr('x', cx).attr('y', 1329).attr('text-anchor', 'middle').attr('font-size', 20);
    l1.append('tspan').text('Flux over 4');
    l1.append('tspan').style('font-family', '"Liberation Serif", serif').style('font-style', 'italic').text('\u03c0');
    l1.append('tspan').text(' steradians');
    const l2 = svg.append('text').attr('x', cx).attr('y', 1362).attr('text-anchor', 'middle').attr('font-size', 20);
    l2.append('tspan').text('J, /MeV/cm');
    l2.append('tspan').attr('dy', -8).attr('font-size', 13).text('2');
    l2.append('tspan').attr('dy', 8).text('/s');
    svg.append('text').attr('x', cx).attr('y', 1391.5).attr('text-anchor', 'middle').attr('font-size', 20)
      .text(`L*=${lStars[c]} +/-0.25 & Dst=0 +/-15 nT`);
  }
}

letters.forEach((letter, i) => drawPanel(letter, Math.floor(i / 3), i % 3));

// legend
const lg = svg.append('g');
lg.append('rect').attr('x', 123.5).attr('y', 2.5).attr('width', 1040).attr('height', 47.5)
  .attr('fill', '#fff').attr('stroke', '#3a3a3a').attr('stroke-width', 1.1);
function legendEntry(xp, parts) {
  const t = lg.append('text').attr('x', xp).attr('y', 37.3).attr('font-size', 20);
  parts.forEach(([s, sup]) => {
    t.append('tspan').attr('dy', sup ? -9 : 9).attr('font-size', sup ? 13 : 20).text(s);
  });
  t.select('tspan').attr('dy', 0);
}
lg.append('circle').attr('cx', 173.7).attr('cy', 27.7).attr('r', 2.8).attr('fill', BLUE);
legendEntry(217, [['Peaks at 65', false], ['o', true], [' +/-5', false], ['o', true]]);
lg.append('circle').attr('cx', 434).attr('cy', 27.7).attr('r', 2.8).attr('fill', RED);
legendEntry(476.7, [['Peaks at 35', false], ['o', true], [' +/-5', false], ['o', true]]);
lg.append('line').attr('x1', 655.3).attr('x2', 728.6).attr('y1', 26).attr('y2', 26).attr('stroke', CYAN).attr('stroke-width', 5);
legendEntry(732, [['65', false], ['o', true], [' +/-5', false], ['o', true], [' LS fit', false]]);
lg.append('line').attr('x1', 882.4).attr('x2', 956.4).attr('y1', 26).attr('y2', 26).attr('stroke', GREEN).attr('stroke-width', 5);
legendEntry(961, [['35', false], ['o', true], [' +/-5', false], ['o', true], [' LS fit', false]]);
</script>
</body>
</html>
